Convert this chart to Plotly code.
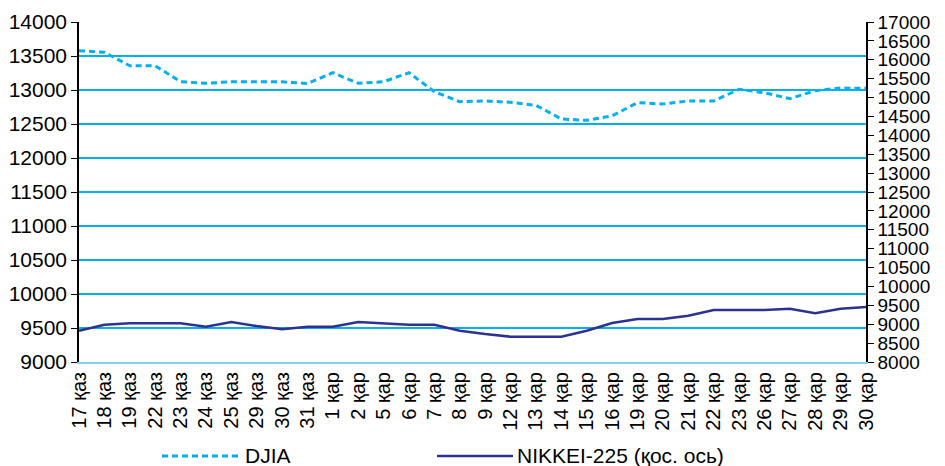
import plotly.graph_objects as go

dates = ["17 қаз", "18 қаз", "19 қаз", "22 қаз", "23 қаз", "24 қаз", "25 қаз", "29 қаз", "30 қаз", "31 қаз",
         "1 қар", "2 қар", "5 қар", "6 қар", "7 қар", "8 қар", "9 қар", "12 қар", "13 қар", "14 қар",
         "15 қар", "16 қар", "19 қар", "20 қар", "21 қар", "22 қар", "23 қар", "26 қар", "27 қар", "28 қар",
         "29 қар", "30 қар"]

djia = [13578, 13554, 13357, 13357, 13122, 13098, 13122, 13122, 13120, 13095,
        13254, 13098, 13122, 13254, 12975, 12828, 12838, 12819, 12775, 12574,
        12554, 12620, 12813, 12794, 12838, 12838, 13010, 12960, 12872, 12990,
        13029, 13025]

nikkei = [8828, 8987, 9024, 9024, 9024, 8934, 9059, 8952, 8864, 8934,
          8934, 9059, 9024, 8987, 8987, 8828, 8740, 8670, 8670, 8670,
          8828, 9030, 9138, 9138, 9226, 9376, 9376, 9376, 9412, 9288,
          9412, 9456]

left_ticks = list(range(9000, 14001, 500))
right_ticks = list(range(8000, 17001, 500))

FONT = "Liberation Sans, Arial, sans-serif"
CYAN = "#00B0F0"
NAVY = "#2E3192"

fig = go.Figure()
fig.add_trace(go.Scatter(x=dates, y=djia, mode="lines", name="DJIA",
                         line=dict(color=CYAN, width=3, dash="6px,4px"), yaxis="y"))
fig.add_trace(go.Scatter(x=dates, y=nikkei, mode="lines", name="NIKKEI-225 (қос. ось)",
                         line=dict(color=NAVY, width=2.5), yaxis="y2"))

fig.update_layout(
    width=945, height=466,
    margin=dict(l=79, r=79, t=22, b=104),
    paper_bgcolor="white", plot_bgcolor="white",
    showlegend=False,
    font=dict(family=FONT, size=20, color="black"),
    xaxis=dict(type="category", range=[0, len(dates) - 1], tickangle=-90,
               showgrid=False, showline=True, linecolor="#7FD3F5", linewidth=2,
               ticks="", tickfont=dict(size=20), automargin=False),
    yaxis=dict(range=[9000, 14000], tickvals=left_ticks, tickformat="d", showgrid=True,
               gridcolor=CYAN, gridwidth=1.5,
               showline=True, linecolor="black", linewidth=1.5, ticks="outside", ticklen=6,
               tickcolor="black", zeroline=False, tickfont=dict(size=21), automargin=False),
    yaxis2=dict(range=[8000, 17000], tickvals=right_ticks, tickformat="d", overlaying="y", side="right",
                showgrid=False, showline=True, linecolor="black", linewidth=1.5, ticks="outside",
                ticklen=6, tickcolor="black", zeroline=False, tickfont=dict(size=19), automargin=False),
)

def px_x(px):
    return (px - 79) / 787.0

def px_y(py):
    return (362 - py) / 340.0

ly = px_y(456)
fig.add_shape(type="line", xref="paper", yref="paper", x0=px_x(162), x1=px_x(242), y0=ly, y1=ly,
              line=dict(color=CYAN, width=3, dash="6px,4px"))
fig.add_shape(type="line", xref="paper", yref="paper", x0=px_x(437), x1=px_x(513), y0=ly, y1=ly,
              line=dict(color=NAVY, width=2.5))
fig.add_annotation(xref="paper", yref="paper", x=px_x(244), y=px_y(443), text="DJIA", showarrow=False,
                   xanchor="left", yanchor="top", font=dict(size=21), borderpad=0)
fig.add_annotation(xref="paper", yref="paper", x=px_x(516), y=px_y(443), text="NIKKEI-225 (қос. ось)",
                   showarrow=False, xanchor="left", yanchor="top", font=dict(size=21), borderpad=0)

fig.write_html("out.html", config={"displayModeBar": False})

with open("out.html", "r", encoding="utf-8") as f:
    html = f.read()
html = html.replace("<head>", "<head><style>html,body{margin:0;padding:0;overflow:hidden;}</style>", 1)
with open("out.html", "w", encoding="utf-8") as f:
    f.write(html)
